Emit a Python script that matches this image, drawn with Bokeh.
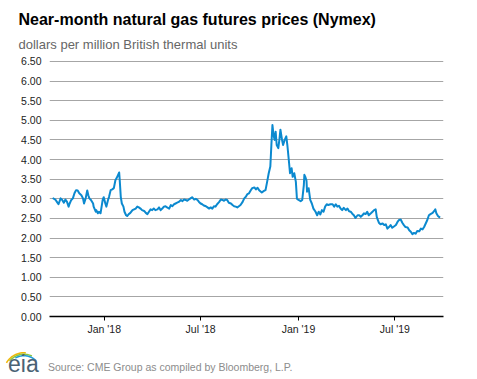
import numpy as np
import pandas as pd
from datetime import datetime
from bokeh.plotting import figure
from bokeh.layouts import column
from bokeh.models import (Range1d, FixedTicker, DatetimeTickFormatter, Title, Div,
                          ColumnDataSource, NumeralTickFormatter)
from bokeh.embed import file_html
from bokeh.resources import INLINE

title_text = "Near-month natural gas futures prices (Nymex)"
subtitle_text = "dollars per million British thermal units"
source_text = "Source: CME Group as compiled by Bloomberg, L.P."

y_ticks = [0.0, 0.5, 1.0, 1.5, 2.0, 2.5, 3.0, 3.5, 4.0, 4.5, 5.0, 5.5, 6.0, 6.5]
x_tick_dates = ["2018-01-01", "2018-07-01", "2019-01-01", "2019-07-01"]
x_tick_labels = ["Jan '18", "Jul '18", "Jan '19", "Jul '19"]

dates = [
    "2017-09-26", "2017-10-01", "2017-10-04", "2017-10-07", "2017-10-11", "2017-10-14", "2017-10-17",
    "2017-10-20", "2017-10-23", "2017-10-26", "2017-10-28", "2017-10-31", "2017-11-03", "2017-11-06",
    "2017-11-09", "2017-11-12", "2017-11-15", "2017-11-19", "2017-11-22", "2017-11-24", "2017-11-27",
    "2017-11-30", "2017-12-02", "2017-12-04", "2017-12-07", "2017-12-11", "2017-12-12", "2017-12-16",
    "2017-12-17", "2017-12-20", "2017-12-22", "2017-12-25", "2017-12-27", "2017-12-29", "2017-12-31",
    "2018-01-03", "2018-01-05", "2018-01-08", "2018-01-10", "2018-01-13", "2018-01-16", "2018-01-19",
    "2018-01-22", "2018-01-24", "2018-01-27", "2018-01-29", "2018-01-30", "2018-02-01", "2018-02-03",
    "2018-02-06", "2018-02-08", "2018-02-11", "2018-02-13", "2018-02-16", "2018-02-19", "2018-02-23",
    "2018-02-26", "2018-03-01", "2018-03-04", "2018-03-07", "2018-03-10", "2018-03-13", "2018-03-17",
    "2018-03-20", "2018-03-23", "2018-03-26", "2018-03-29", "2018-04-01", "2018-04-04", "2018-04-07",
    "2018-04-11", "2018-04-14", "2018-04-17", "2018-04-20", "2018-04-23", "2018-04-26", "2018-04-29",
    "2018-05-03", "2018-05-06", "2018-05-09", "2018-05-12", "2018-05-15", "2018-05-18", "2018-05-21",
    "2018-05-25", "2018-05-28", "2018-05-31", "2018-06-03", "2018-06-06", "2018-06-09", "2018-06-12",
    "2018-06-15", "2018-06-19", "2018-06-22", "2018-06-25", "2018-06-28", "2018-07-01", "2018-07-04",
    "2018-07-07", "2018-07-11", "2018-07-14", "2018-07-17", "2018-07-20", "2018-07-23", "2018-07-26",
    "2018-07-29", "2018-08-01", "2018-08-05", "2018-08-08", "2018-08-11", "2018-08-14", "2018-08-17",
    "2018-08-20", "2018-08-23", "2018-08-27", "2018-08-30", "2018-09-02", "2018-09-05", "2018-09-08",
    "2018-09-11", "2018-09-14", "2018-09-18", "2018-09-21", "2018-09-24", "2018-09-27", "2018-09-30",
    "2018-10-03", "2018-10-06", "2018-10-10", "2018-10-13", "2018-10-16", "2018-10-19", "2018-10-24",
    "2018-10-28", "2018-10-31", "2018-11-03", "2018-11-06", "2018-11-09", "2018-11-11", "2018-11-13",
    "2018-11-15", "2018-11-17", "2018-11-19", "2018-11-21", "2018-11-24", "2018-11-26", "2018-11-28",
    "2018-12-01", "2018-12-03", "2018-12-06", "2018-12-09", "2018-12-11", "2018-12-14", "2018-12-16",
    "2018-12-19", "2018-12-21", "2018-12-24", "2018-12-27", "2018-12-29", "2019-01-01", "2019-01-05",
    "2019-01-08", "2019-01-11", "2019-01-12", "2019-01-14", "2019-01-16", "2019-01-17", "2019-01-20",
    "2019-01-23", "2019-01-26", "2019-01-29", "2019-02-02", "2019-02-05", "2019-02-08", "2019-02-11",
    "2019-02-14", "2019-02-17", "2019-02-20", "2019-02-23", "2019-02-26", "2019-03-02", "2019-03-06",
    "2019-03-09", "2019-03-12", "2019-03-15", "2019-03-18", "2019-03-21", "2019-03-24", "2019-03-27",
    "2019-03-31", "2019-04-03", "2019-04-06", "2019-04-09", "2019-04-12", "2019-04-15", "2019-04-18",
    "2019-04-22", "2019-04-25", "2019-04-28", "2019-05-01", "2019-05-04", "2019-05-07", "2019-05-10",
    "2019-05-13", "2019-05-17", "2019-05-20", "2019-05-23", "2019-05-26", "2019-05-28", "2019-05-30",
    "2019-06-01", "2019-06-04", "2019-06-08", "2019-06-11", "2019-06-14", "2019-06-17", "2019-06-20",
    "2019-06-23", "2019-06-26", "2019-06-30", "2019-07-03", "2019-07-06", "2019-07-09", "2019-07-12",
    "2019-07-15", "2019-07-18", "2019-07-21", "2019-07-25", "2019-07-28", "2019-07-31", "2019-08-03",
    "2019-08-06", "2019-08-09", "2019-08-12", "2019-08-16", "2019-08-19", "2019-08-22", "2019-08-25",
    "2019-08-28", "2019-08-31", "2019-09-03", "2019-09-06", "2019-09-10", "2019-09-13", "2019-09-15",
    "2019-09-17", "2019-09-20", "2019-09-22", "2019-09-24",
]

prices = [
    3.02, 2.98, 2.92, 2.86, 3.01, 2.97, 2.90,
    2.98, 2.92, 2.80, 2.88, 2.97, 3.01, 3.14,
    3.22, 3.21, 3.14, 3.09, 3.01, 2.88, 3.01,
    3.21, 3.09, 3.01, 2.97, 2.88, 2.80, 2.67,
    2.71, 2.63, 2.67, 2.63, 2.80, 2.97, 3.04,
    2.88, 2.80, 2.97, 3.05, 3.22, 3.24, 3.27,
    3.48, 3.52, 3.61, 3.67, 3.48, 3.05, 2.88,
    2.80, 2.67, 2.58, 2.56, 2.61, 2.64, 2.71,
    2.73, 2.75, 2.80, 2.78, 2.75, 2.71, 2.69,
    2.64, 2.61, 2.67, 2.73, 2.71, 2.75, 2.71,
    2.73, 2.78, 2.71, 2.75, 2.80, 2.81, 2.78,
    2.75, 2.84, 2.81, 2.86, 2.88, 2.90, 2.92,
    2.97, 2.94, 2.98, 2.97, 2.95, 2.98, 3.01,
    3.04, 2.98, 3.00, 2.97, 2.92, 2.88, 2.86,
    2.83, 2.81, 2.78, 2.75, 2.78, 2.75, 2.81,
    2.80, 2.86, 2.92, 2.98, 2.97, 2.95, 2.98,
    2.97, 2.90, 2.88, 2.84, 2.81, 2.80, 2.78,
    2.81, 2.84, 2.92, 3.01, 3.05, 3.12, 3.14,
    3.21, 3.27, 3.29, 3.24, 3.28, 3.22, 3.16,
    3.20, 3.22, 3.43, 3.65, 3.82, 4.37, 4.88,
    4.63, 4.50, 4.71, 4.37, 4.29, 4.50, 4.76,
    4.50, 4.37, 4.50, 4.59, 4.37, 3.95, 3.65,
    3.78, 3.56, 3.65, 3.43, 3.00, 2.97, 2.94,
    2.97, 3.35, 3.61, 3.55, 3.46, 3.18, 3.27,
    2.97, 2.88, 2.75, 2.67, 2.58, 2.67, 2.60,
    2.71, 2.67, 2.80, 2.86, 2.84, 2.86, 2.86,
    2.80, 2.86, 2.80, 2.82, 2.75, 2.71, 2.77,
    2.71, 2.75, 2.68, 2.67, 2.62, 2.58, 2.51,
    2.58, 2.58, 2.54, 2.58, 2.63, 2.61, 2.67,
    2.58, 2.63, 2.67, 2.71, 2.73, 2.54, 2.46,
    2.39, 2.35, 2.37, 2.33, 2.35, 2.24, 2.28,
    2.33, 2.26, 2.30, 2.33, 2.41, 2.46, 2.47,
    2.39, 2.33, 2.28, 2.27, 2.20, 2.16, 2.10,
    2.13, 2.11, 2.18, 2.17, 2.24, 2.22, 2.28,
    2.37, 2.46, 2.58, 2.61, 2.64, 2.69, 2.73,
    2.63, 2.56, 2.54, 2.52,
]

W = 477
MAIN_H, FOOT_H = 340, 39
FONT = "Liberation Sans"
FRAME_L, FRAME_R, FRAME_T, FRAME_B = 49, 443, 57, 316

src = ColumnDataSource(data=dict(date=pd.to_datetime(dates), price=prices))

p = figure(width=W, height=MAIN_H, x_axis_type="datetime", output_backend="svg",
           toolbar_location=None, title=None,
           x_range=Range1d(datetime(2017, 9, 20, 2), datetime(2019, 9, 30, 10)),
           y_range=Range1d(0, 6.6),
           min_border_left=FRAME_L, min_border_right=W - FRAME_R,
           min_border_top=FRAME_T, min_border_bottom=MAIN_H - FRAME_B)
p.outline_line_color = None
p.background_fill_color = "white"
p.border_fill_color = "white"

# titles (side panel above the frame; first added sits nearest the frame)
p.add_layout(Title(text=subtitle_text, align="left", offset=18 - FRAME_L, standoff=12,
                   vertical_align="bottom", text_font=FONT, text_font_size="13px",
                   text_font_style="normal", text_color="#666666"), "above")
p.add_layout(Title(text=title_text, align="left", offset=18 - FRAME_L, standoff=2,
                   vertical_align="bottom", text_font=FONT, text_font_size="16px",
                   text_font_style="bold", text_color="#000000"), "above")

p.line(x="date", y="price", source=src, line_color="#0b89cf", line_width=2, line_join="round")

p.yaxis.ticker = FixedTicker(ticks=y_ticks)
p.yaxis.formatter = NumeralTickFormatter(format="0.00")
p.yaxis.axis_line_color = None
p.yaxis.major_tick_line_color = None
p.yaxis.minor_tick_line_color = None
p.yaxis.major_tick_in = 0
p.yaxis.major_tick_out = 0
p.yaxis.major_label_standoff = 8
p.yaxis.major_label_text_font = FONT
p.yaxis.major_label_text_font_size = "10.5px"
p.yaxis.major_label_text_color = "#222222"

p.ygrid.ticker = FixedTicker(ticks=y_ticks)
p.ygrid.grid_line_color = "#a6a6a6"
p.ygrid.grid_line_width = 1
p.xgrid.grid_line_color = None

tick_ms = [pd.Timestamp(d).value / 1e6 for d in x_tick_dates]
p.xaxis.ticker = FixedTicker(ticks=tick_ms)
fmt = "%b '%y"
p.xaxis.formatter = DatetimeTickFormatter(years=fmt, months=fmt, days=fmt, hours=fmt,
                                          hourmin=fmt, minutes=fmt, minsec=fmt,
                                          seconds=fmt, milliseconds=fmt, microseconds=fmt)
p.xaxis.major_label_overrides = {float(t): lab for t, lab in zip(tick_ms, x_tick_labels)}
p.xaxis.axis_line_color = "#000000"
p.xaxis.axis_line_width = 1.5
p.xaxis.major_tick_line_color = "#000000"
p.xaxis.major_tick_in = 0
p.xaxis.major_tick_out = 4
p.xaxis.minor_tick_line_color = None
p.xaxis.major_label_standoff = 2
p.xaxis.major_label_text_font = FONT
p.xaxis.major_label_text_font_size = "10.5px"
p.xaxis.major_label_text_color = "#222222"

# ---------- footer: EIA logo + source note (inline SVG) ----------
cx, cy = 24, 33
arcs = []
for r0, r1, a0, a1, col in [(19.5, 21.0, 85, 150, "#f2b705"),
                            (18.0, 19.5, 65, 140, "#8cc63f"),
                            (16.5, 18.0, 45, 120, "#1f9bd7")]:
    ang = np.radians(np.linspace(a0, a1, 30))
    xs = list(cx + r1 * np.cos(ang)) + list(cx + r0 * np.cos(ang[::-1]))
    ys = list(cy - r1 * np.sin(ang)) + list(cy - r0 * np.sin(ang[::-1]))
    pts = " ".join(f"{x:.2f},{y:.2f}" for x, y in zip(xs, ys))
    arcs.append(f'<polygon points="{pts}" fill="{col}" stroke="none"/>')

footer_html = (
    f'<svg xmlns="http://www.w3.org/2000/svg" width="{W}" height="{FOOT_H}" '
    f'style="display:block">'
    + "".join(arcs)
    + f'<text x="8" y="32" font-family="Liberation Serif" font-size="23" fill="#4a6274">eia</text>'
    + f'<text x="48" y="31" font-family="{FONT}" font-size="10.5" fill="#8c8c8c">{source_text}</text>'
    + '</svg>'
)
foot = Div(text=footer_html, width=W, height=FOOT_H, margin=(0, 0, 0, 0))

layout = column(p, foot, spacing=0)
open("out.html", "w").write(file_html(layout, INLINE))
